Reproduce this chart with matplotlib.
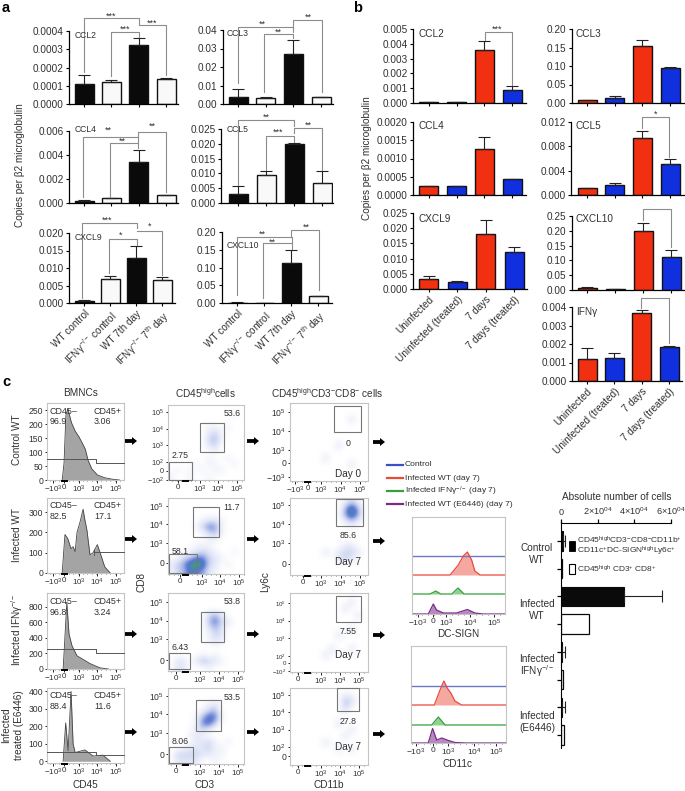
import matplotlib
matplotlib.use("Agg")
import matplotlib.pyplot as plt
from matplotlib.colors import LinearSegmentedColormap
from matplotlib.patches import Rectangle, FancyArrow
from matplotlib.ticker import MultipleLocator
import numpy as np

plt.rcParams['font.family'] = ['Liberation Sans', 'DejaVu Sans']
plt.rcParams['mathtext.fontset'] = 'custom'
plt.rcParams['mathtext.rm'] = 'Liberation Sans'
plt.rcParams['mathtext.it'] = 'Liberation Sans:italic'
plt.rcParams['mathtext.bf'] = 'Liberation Sans:bold'
plt.rcParams['mathtext.default'] = 'regular'

W, H = 685, 791
TXT = '#303030'
KO = "IFNγ$^{-/-}$"

# panel a: bar height, top of error bar
a_ccl2 = [0.00011, 0.00012, 0.000325, 0.000135]
a_ccl2_top = [0.00016, 0.00013, 0.000362, 0.00014]
a_ccl3 = [0.004, 0.0033, 0.027, 0.0036]
a_ccl3_top = [0.0083, 0.004, 0.0347, 0.0036]
a_ccl4 = [0.0002, 0.00038, 0.0034, 0.00068]
a_ccl4_top = [0.00025, 0.00038, 0.0044, 0.00068]
a_ccl5 = [0.0032, 0.0094, 0.0198, 0.0067]
a_ccl5_top = [0.0058, 0.0108, 0.0202, 0.0108]
a_cxcl9 = [0.0006, 0.0069, 0.013, 0.0065]
a_cxcl9_top = [0.001, 0.0076, 0.0163, 0.0073]
a_cxcl10 = [0.001, 0.0, 0.113, 0.021]
a_cxcl10_top = [0.002, 0.0, 0.15, 0.021]
a_labels = ["WT control", KO + " control", "WT 7th day", KO + " 7$^{th}$ day"]

# panel b
b_ccl2 = [0.00005, 0.00007, 0.0036, 0.0009]
b_ccl2_top = [0.00005, 0.00007, 0.0042, 0.00115]
b_ccl3 = [0.008, 0.014, 0.155, 0.094]
b_ccl3_top = [0.008, 0.018, 0.17, 0.098]
b_ccl4 = [0.00024, 0.00025, 0.00127, 0.00044]
b_ccl4_top = [0.00024, 0.00026, 0.0016, 0.00044]
b_ccl5 = [0.0011, 0.0016, 0.0093, 0.0051]
b_ccl5_top = [0.0011, 0.0019, 0.0106, 0.006]
b_cxcl9 = [0.0032, 0.0022, 0.018, 0.0123]
b_cxcl9_top = [0.0043, 0.0026, 0.0227, 0.0137]
b_cxcl10 = [0.007, 0.002, 0.199, 0.112]
b_cxcl10_top = [0.011, 0.003, 0.225, 0.135]
b_ifng = [0.0012, 0.00125, 0.00365, 0.00185]
b_ifng_top = [0.0018, 0.0015, 0.00385, 0.00187]
b_labels = ["Uninfected", "Uninfected (treated)", "7 days", "7 days (treated)"]

# panel c, BMNC histograms (x in display decades, y in counts)
hist1_x = [-0.1, 0.0, 0.1, 0.2, 0.4, 0.6, 0.8, 1.0, 1.15, 1.3, 1.5, 1.8, 2.2, 2.6, 3.0]
hist1_y = [0, 60, 230, 255, 205, 175, 155, 130, 110, 70, 40, 18, 8, 3, 0]
hist2_x = [-0.1, 0.05, 0.2, 0.38, 0.49, 0.6, 0.7, 0.86, 1.03, 1.13, 1.24, 1.4, 1.57, 1.8, 1.95, 2.2, 2.5]
hist2_y = [0, 190, 170, 120, 130, 105, 200, 250, 315, 260, 210, 90, 100, 140, 100, 30, 0]
hist3_x = [-0.05, 0.0, 0.15, 0.27, 0.43, 0.7, 1.13, 1.4, 1.95, 2.4]
hist3_y = [0, 200, 860, 450, 300, 170, 110, 70, 15, 0]
hist4_x = [-0.05, 0.09, 0.22, 0.38, 0.49, 0.6, 1.13, 1.57, 2.1, 2.5]
hist4_y = [0, 220, 60, 400, 100, 50, 65, 30, 35, 0]

# panel c, overlaid histograms (x in decades, y relative heights)
dc_red_x = [3.17, 3.51, 3.72, 3.89, 4.07, 4.2, 4.42]
dc_red_y = [0, 10, 19, 23, 15, 4, 0]
dc_green_x = [2.33, 2.57, 2.78, 3.24, 3.5, 3.75]
dc_green_y = [0, 3, 0, 0, 6, 0]
dc_purple_x = [2.26, 2.47, 2.6, 2.89, 3.44, 3.89, 4.2, 4.56]
dc_purple_y = [0, 10, 4, 1, 1, 4.5, 1, 0]
cd11c_red_x = [2.43, 2.67, 2.83, 2.97, 3.12, 3.29, 3.57]
cd11c_red_y = [0, 15, 24, 17, 12, 4, 0]
cd11c_green_x = [2.32, 2.6, 2.88]
cd11c_green_y = [0, 8, 0]
cd11c_purple_x = [2.18, 2.36, 2.53, 2.74, 3.02, 3.29, 3.78]
cd11c_purple_y = [0, 14.5, 3, 5, 2.5, 0.5, 0]

# panel c, absolute numbers
abs_black = [1000, 34700, 500, 700]
abs_black_top = [2400, 55300, 2000, 2000]
abs_white = [700, 15500, 1000, 1800]

# dot plot density read by eye, 12 x 12 cells, levels 0-9, top row first
d_cd3_r1 = ["000000000000", "000000000010", "000000000000", "000000110100",
            "000000231000", "000000341000", "000000230000", "000000010000",
            "000000100100", "000010110010", "010101011000", "100100100000"]
d_cd3_r2 = ["000000000000", "000000000000", "000000000000", "000001221000",
            "000013651000", "000001341000", "000000110000", "000011100000",
            "000123210010", "013466321000", "235898320100", "134765210000"]
d_cd3_r3 = ["000000000000", "000000000000", "000000000000", "000000352000",
            "000000463200", "000000242000", "000000132000", "000000121000",
            "000000000000", "000001010000", "022024321000", "022000100000"]
d_cd3_r4 = ["000000000000", "000000000000", "000000120000", "000001340000",
            "000014761000", "000016740000", "000023200000", "000121000000",
            "000022310100", "001222311000", "033332211000", "022220010000"]
d_ly6c_r1 = ["000000000000", "000000000000", "000000000200", "000000000000",
             "000000000000", "000000000000", "000000020000", "000000000000",
             "000002000000", "000000000200", "000000000000", "000000000000"]
d_ly6c_r2 = ["000000001310", "000000004840", "000000005950", "000000002420",
             "000000000100", "000000000000", "000000000000", "000000002200",
             "000002023320", "000000023200", "000000000000", "000000000000"]
d_ly6c_r3 = ["000000000000", "000000000200", "000000002000", "000000000020",
             "000000000000", "000000000200", "000000020000", "000000000000",
             "000000200200", "000002000000", "000000000000", "000000000000"]
d_ly6c_r4 = ["000000000000", "000000003200", "000000004200", "000000002000",
             "000000000000", "000000020000", "000000000200", "000000002000",
             "000002000000", "000000020200", "000000000000", "000000000000"]

fig = plt.figure(figsize=(W / 100, H / 100), dpi=100)


def axes_at(left, top, right, bottom):
    return fig.add_axes([left / W, 1 - bottom / H, (right - left) / W, (bottom - top) / H])


def bar_panel(box, first, last, ylim, ytick_text, vals, tops, colors, labels=None):
    left, top, right, bottom = box
    step = (last - first) / 3
    ax = axes_at(left, top, right, bottom)
    x = np.arange(4)
    err = np.array(tops) - np.array(vals)
    ax.bar(x, vals, width=19 / step, color=colors, edgecolor='#111111', linewidth=1.0)
    ax.errorbar(x, vals, yerr=[np.zeros(4), err], fmt='none', ecolor='#222222',
                elinewidth=0.8, capsize=4.5, capthick=0.8)
    ax.set_xlim((left - first) / step, (right - first) / step)
    ax.set_ylim(*ylim)
    ax.set_yticks([float(t) for t in ytick_text])
    ax.set_yticklabels(ytick_text, fontsize=7.2, color=TXT)
    ax.set_xticks(x)
    if labels:
        ax.set_xticklabels(labels, rotation=45, ha='right', rotation_mode='anchor',
                           fontsize=7.2, color=TXT)
    else:
        ax.set_xticklabels([])
    ax.tick_params(length=2.5, width=0.8, pad=1.5)
    for s in ['top', 'right']:
        ax.spines[s].set_visible(False)
    for s in ['left', 'bottom']:
        ax.spines[s].set_linewidth(0.9)
    ax.patch.set_alpha(0)
    return ax


BW = ['#0a0a0a', '#f9f9f9', '#0a0a0a', '#f9f9f9']
RB = ['#f03010', '#1030e0', '#f03010', '#1030e0']

bar_panel((69, 31, 178, 104), 84, 166, (0, 0.0004), ["0.0000", "0.0001", "0.0002", "0.0003", "0.0004"],
          a_ccl2, a_ccl2_top, BW)
bar_panel((223, 30, 333, 104), 238, 321, (0, 0.04), ["0.00", "0.01", "0.02", "0.03", "0.04"],
          a_ccl3, a_ccl3_top, BW)
bar_panel((69, 131, 178, 203), 84, 166, (0, 0.006), ["0.000", "0.002", "0.004", "0.006"],
          a_ccl4, a_ccl4_top, BW)
bar_panel((221, 129, 333, 203), 238, 322, (0, 0.025), ["0.000", "0.005", "0.010", "0.015", "0.020", "0.025"],
          a_ccl5, a_ccl5_top, BW)
bar_panel((69, 233, 175, 303), 84, 162, (0, 0.02), ["0.000", "0.005", "0.010", "0.015", "0.020"],
          a_cxcl9, a_cxcl9_top, BW, a_labels)
bar_panel((222, 232, 332, 303), 237, 318, (0, 0.2), ["0.00", "0.05", "0.10", "0.15", "0.20"],
          a_cxcl10, a_cxcl10_top, BW, a_labels)

bar_panel((413, 29, 526, 103), 429, 512, (0, 0.005), ["0.000", "0.001", "0.002", "0.003", "0.004", "0.005"],
          b_ccl2, b_ccl2_top, RB)
bar_panel((572, 29, 685, 103), 587, 670, (0, 0.2), ["0.00", "0.05", "0.10", "0.15", "0.20"],
          b_ccl3, b_ccl3_top, RB)
bar_panel((413, 122, 526, 195), 429, 512, (0, 0.002), ["0.0000", "0.0005", "0.0010", "0.0015", "0.0020"],
          b_ccl4, b_ccl4_top, RB)
bar_panel((571, 122, 685, 195), 587, 670, (0, 0.012), ["0.000", "0.004", "0.008", "0.012"],
          b_ccl5, b_ccl5_top, RB)
bar_panel((413, 213, 527, 289), 429, 514, (0, 0.025), ["0.000", "0.005", "0.010", "0.015", "0.020", "0.025"],
          b_cxcl9, b_cxcl9_top, RB, b_labels)
bar_panel((572, 216, 685, 290), 587, 671, (0, 0.25), ["0.00", "0.05", "0.10", "0.15", "0.20", "0.25"],
          b_cxcl10, b_cxcl10_top, RB)
bar_panel((572, 307, 682, 381), 587, 669, (0, 0.004), ["0.000", "0.001", "0.002", "0.003", "0.004"],
          b_ifng, b_ifng_top, RB, b_labels)

density_cmap = LinearSegmentedColormap.from_list(
    'flow', ['#ffffff', '#f1f3fb', '#e3e8f8', '#ced6f2', '#b2bfeb', '#8a9ee0',
             '#5f7cd2', '#4a80b8', '#48a070', '#80b040'])


def flow_frame(ax, xlim, ylim, xt, xl, yt, yl, ysize=6.2):
    ax.set_xlim(*xlim)
    ax.set_ylim(*ylim)
    ax.set_xticks(xt)
    ax.set_xticklabels(xl, fontsize=5.8, color=TXT)
    ax.set_yticks(yt)
    ax.set_yticklabels(yl, fontsize=ysize, color=TXT)
    ax.tick_params(length=1.8, width=0.6, pad=1)
    ax.xaxis.set_minor_locator(MultipleLocator(0.25))
    ax.tick_params(which='minor', length=0.9, width=0.4)
    for s in ax.spines.values():
        s.set_color('#c4c4c4')
        s.set_linewidth(0.8)


E = ["$10^{2}$", "$10^{3}$", "$10^{4}$", "$10^{5}$"]
XH = [-0.6, 0, 0.8, 1.8, 2.8]
XHL = ["−10$^{3}$", "0", E[1], E[2], E[3]]
hist_boxes = [(47, 403, 124, 480), (47, 498, 124, 573), (47, 593, 124, 669), (47, 688, 124, 763)]
hist_ylim = [(0, 275), (0, 370), (0, 980), (-10, 420)]
hist_yt = [[0, 50, 100, 150, 200, 250], [0, 100, 200, 300], [0, 200, 400, 600, 800], [0, 100, 200, 300, 400]]
hist_data = [(hist1_x, hist1_y), (hist2_x, hist2_y), (hist3_x, hist3_y), (hist4_x, hist4_y)]
for box, yl, yt, (hx, hy) in zip(hist_boxes, hist_ylim, hist_yt, hist_data):
    ax = axes_at(*box)
    ax.fill_between(hx, hy, 0, color='#a4a4a4', linewidth=0)
    ax.plot(hx, hy, color='#444444', lw=0.6)
    flow_frame(ax, (-0.92, 3.24), yl, XH, XHL, yt, [str(v) for v in yt])

cd3_boxes = [(168, 405, 244, 480), (168, 498, 244, 574), (168, 593, 244, 671), (168, 688, 244, 764)]
cd3_xlim = [(1.27, 5.38), (1.2, 5.27), (1.32, 5.32), (1.32, 5.32)]
cd3_ylim = [(0.93, 5.42), (1.30, 5.43), (1.27, 5.49), (1.32, 5.43)]
cd3_x0 = [1.81, 1.85, 1.74, 1.74]
cd3_yt = [[0.93, 1.47, 2, 3, 4, 5], [1.9, 3, 4, 5], [1.86, 3, 4, 5], [1.86, 3, 4, 5]]
cd3_yl = [["−10$^{2}$", "0"] + E, ["0"] + E[1:], ["0"] + E[1:], ["0"] + E[1:]]
cd3_den = [d_cd3_r1, d_cd3_r2, d_cd3_r3, d_cd3_r4]

ly_boxes = [(290, 403, 368, 481), (290, 498, 368, 575), (290, 593, 368, 672), (290, 688, 368, 765)]
ly_xlim = [(1.41, 5.41), (1.41, 5.41), (1.37, 5.47), (1.37, 5.47)]
ly_ylim = [(1.37, 5.47), (1.32, 5.37), (1.1, 5.55), (0.95, 5.4)]
ly_xt = [[1.67, 2.33, 3, 4, 5], [2.08, 3, 4, 5], [1.79, 3, 4, 5], [1.79, 3, 4, 5]]
ly_xl = [["−10$^{3}$", "0"] + E[1:], ["0"] + E[1:], ["0"] + E[1:], ["0"] + E[1:]]
ly_yt = [[1.58, 2.32, 3, 4, 5], [1.9, 3, 4, 5], [1.16, 1.61, 2, 3, 4, 5], [1.47, 2, 3, 4, 5]]
ly_yl = [["−10$^{3}$", "0"] + E[1:], ["0"] + E[1:], ["−10$^{2}$", "0"] + E, ["0"] + E]
ly_den = [d_ly6c_r1, d_ly6c_r2, d_ly6c_r3, d_ly6c_r4]
ly_ysize = [6.2, 6.2, 4.4, 6.2]
cd3_ysize = [5.2, 6.2, 6.2, 6.2]


def density(ax, rows, xlim, ylim):
    grid = np.array([[int(c) for c in r] for r in rows])
    ax.imshow(grid, cmap=density_cmap, vmin=0, vmax=9, aspect='auto',
              interpolation='bicubic', extent=[xlim[0], xlim[1], ylim[0], ylim[1]])


for i in range(4):
    ax = axes_at(*cd3_boxes[i])
    density(ax, cd3_den[i], cd3_xlim[i], cd3_ylim[i])
    flow_frame(ax, cd3_xlim[i], cd3_ylim[i], [cd3_x0[i], 3, 4, 5], ["0"] + E[1:], cd3_yt[i], cd3_yl[i],
               cd3_ysize[i])
    ax = axes_at(*ly_boxes[i])
    density(ax, ly_den[i], ly_xlim[i], ly_ylim[i])
    flow_frame(ax, ly_xlim[i], ly_ylim[i], ly_xt[i], ly_xl[i], ly_yt[i], ly_yl[i], ly_ysize[i])

BLUE, RED, GREEN, PURPLE = '#3a50c8', '#e84a3c', '#35a040', '#7a2a88'


def overlay_hist(box, xlim, xt, base, red, green, purple, xlabel_ticks):
    ax = axes_at(*box)
    ax.set_ylim(0, box[3] - box[1])
    ax.plot(xlim, [base[0], base[0]], color='#6a78c8', lw=1.0)
    for (hx, hy), b, c, fc in [(red, base[1], RED, '#f4a8a0'), (green, base[2], GREEN, '#90d090'),
                               (purple, 0, PURPLE, '#b888c0')]:
        hx2 = [xlim[0]] + list(hx) + [xlim[1]]
        hy2 = np.array([0] + list(hy) + [0]) + b
        ax.fill_between(hx2, hy2, b, color=fc, linewidth=0)
        ax.plot(hx2, hy2, color=c, lw=0.9)
    flow_frame(ax, xlim, (0, box[3] - box[1]), xt, xlabel_ticks, [], [])
    ax.tick_params(axis='x', labelsize=6)


overlay_hist((412, 517, 505, 614), (1.58, 5.46), [1.83, 2.46, 3, 4, 5], (58, 39, 20),
             (dc_red_x, dc_red_y), (dc_green_x, dc_green_y), (dc_purple_x, dc_purple_y),
             ["−10$^{3}$", "0"] + E[1:])
overlay_hist((411, 646, 506, 743), (1.46, 5.42), [1.67, 2.37, 3, 4.08, 5], (57, 38, 18),
             (cd11c_red_x, cd11c_red_y), (cd11c_green_x, cd11c_green_y), (cd11c_purple_x, cd11c_purple_y),
             ["−10$^{3}$", "0"] + E[1:])

# absolute numbers
ax = axes_at(561, 523, 685, 748)
pos_black = np.array([0, 2, 4, 6])
pos_white = pos_black + 1
ax.barh(pos_black, abs_black, height=0.7, color='#0a0a0a', edgecolor='#0a0a0a', linewidth=0.8)
ax.barh(pos_white, abs_white, height=0.7, color='white', edgecolor='#0a0a0a', linewidth=0.9)
ax.errorbar(abs_black, pos_black, xerr=[np.zeros(4), np.array(abs_black_top) - np.array(abs_black)],
            fmt='none', ecolor='#222222', elinewidth=0.8, capsize=4, capthick=0.8)
ax.set_xlim(0, 124 / 36.5 * 20000)
ax.set_ylim(7.47, -0.65)
ax.xaxis.tick_top()
ax.set_xticks([0, 20000, 40000, 60000])
ax.set_xticklabels(["0", "2×10$^{04}$", "4×10$^{04}$", "6×10$^{04}$"], fontsize=6.6, color=TXT)
ax.set_yticks(range(8))
ax.set_yticklabels([])
ax.tick_params(length=3, width=0.9, pad=1.5)
ax.spines['right'].set_visible(False)
ax.spines['bottom'].set_visible(False)
ax.spines['top'].set_bounds(0, 60000)
ax.patch.set_alpha(0)

# everything placed by eye goes on a pixel overlay
ov = fig.add_axes([0, 0, 1, 1], zorder=10)
ov.set_xlim(0, W)
ov.set_ylim(H, 0)
ov.axis('off')


def T(x, y, s, size=7.2, ha='left', rot=0, weight='normal', color=TXT):
    ov.text(x, y, s, fontsize=size, ha=ha, va='center', rotation=rot, fontweight=weight, color=color)


def bracket(x1, y1, ytop, x2, y2):
    ov.plot([x1, x1, x2, x2], [y1, ytop, ytop, y2], color='#8c8c8c', lw=0.8)


a_brackets = [(84, 72, 18, 139, 24), (111, 76, 32, 139, 37), (139, 25, 25, 166, 75),
              (238, 83, 27, 293, 32), (264, 92, 34, 293, 38), (293, 26, 20, 322, 92),
              (83, 197, 137, 138, 142), (110, 197, 143, 138, 148), (138, 137, 132, 166, 192),
              (238, 185, 120, 294, 126), (266, 170, 136, 294, 142), (294, 133, 128, 322, 170),
              (82, 298, 223, 137, 228), (109, 273, 239, 137, 245), (137, 231, 231, 162, 275),
              (237, 295, 237, 292, 242), (263, 298, 243, 292, 249), (291, 237, 230, 319, 290),
              (485, 40, 32, 512, 85), (642, 128, 117, 669, 157), (643, 220, 209, 671, 247),
              (641, 308, 298, 669, 343)]
for b in a_brackets:
    bracket(*b)

stars = [(111, 15, '***'), (125, 28, '***'), (152, 22, '***'), (262, 23, '**'), (278, 31, '**'), (308, 16, '**'),
         (108, 129, '**'), (122, 140, '**'), (152, 125, '**'), (266, 116, '**'), (278, 131, '***'), (308, 124, '**'),
         (107, 219, '***'), (121, 234, '*'), (150, 225, '*'), (262, 233, '**'), (272, 241, '**'), (306, 226, '**'),
         (497, 28, '***'), (656, 113, '*')]
for x, y, s in stars:
    ov.text(x, y + 1, s, fontsize=6.5, ha='center', va='center', color=TXT)

for x, y, s in [(75, 35, 'CCL2'), (227, 34, 'CCL3'), (75, 130, 'CCL4'), (227, 129, 'CCL5'),
                (75, 237, 'CXCL9'), (227, 245, 'CXCL10')]:
    T(x, y, s, 6.2)
for x, y, s in [(419, 34, 'CCL2'), (576, 34, 'CCL3'), (419, 126, 'CCL4'), (576, 126, 'CCL5'),
                (419, 219, 'CXCL9'), (576, 219, 'CXCL10'), (576, 312, 'IFNγ')]:
    T(x, y, s)

T(20, 165, 'Copies per β2 microglobulin', ha='center', rot=90)
T(367, 158, 'Copies per β2 microglobulin', ha='center', rot=90)
T(2, 8, 'a', 10.5, weight='bold', color='black')
T(353, 8, 'b', 10.5, weight='bold', color='black')
T(2, 382, 'c', 10.5, weight='bold', color='black')

T(81, 393, 'BMNCs', ha='center')
T(205, 393, 'CD45$^{high}$cells', ha='center')
T(327, 393, 'CD45$^{high}$CD3$^{-}$CD8$^{-}$ cells', ha='center')
T(85, 785, 'CD45', ha='center')
T(205, 785, 'CD3', ha='center')
T(329, 785, 'CD11b', ha='center')
T(458, 634, 'DC-SIGN', ha='center')
T(458, 764, 'CD11c', ha='center')
T(142, 582, 'CD8', ha='center', rot=90)
T(265, 582, 'Ly6c', ha='center', rot=90)
T(17, 440, 'Control WT', ha='center', rot=90)
T(17, 535, 'Infected WT', ha='center', rot=90)
T(17, 630, 'Infected ' + KO, ha='center', rot=90)
T(6, 725, 'Infected', ha='center', rot=90)
T(19, 725, 'treated (E6446)', ha='center', rot=90)

for y1, n1, p1 in [(411, '96.9', '3.06'), (506, '82.5', '17.1'), (602, '96.8', '3.24'), (696, '88.4', '11.6')]:
    T(50, y1, 'CD45–', 6.4)
    T(50, y1 + 10.5, n1, 6.4)
    T(94, y1, 'CD45+', 6.4)
    T(94, y1 + 10.5, p1, 6.4)

# histogram gates
for y1, y2, x_end in [(459, 463, 124), (552, 552, 124), (649, 653, 124), (752, 755, 124)]:
    if y1 != y2:
        ov.plot([47, 96, 96, x_end], [y1, y1, y2, y2], color='#555555', lw=0.7)
    else:
        ov.plot([94, x_end], [y2, y2], color='#555555', lw=0.7)
        ov.plot([94, 94], [y2 - 3, y2 + 3], color='#555555', lw=0.7)

gates = [(200, 423, 224, 452), (169, 462, 192, 480), (193, 507, 219, 537), (169, 554, 197, 573),
         (201, 612, 224, 642), (169, 653, 190, 669), (196, 700, 221, 731), (169, 747, 193, 763),
         (334, 406, 361, 432), (336, 499, 363, 526), (336, 596, 361, 622), (337, 688, 359, 711)]
for x1, y1, x2, y2 in gates:
    ov.add_patch(Rectangle((x1, y1), x2 - x1, y2 - y1, fill=False, edgecolor='#777777', lw=0.8))

flow_text = [(232, 413, '53.6'), (180, 455, '2.75'), (232, 507, '11.7'), (180, 551, '58.1'),
             (232, 601, '53.8'), (180, 647, '6.43'), (232, 697, '53.5'), (180, 741, '8.06'),
             (348, 443, '0'), (348, 474, 'Day 0'), (348, 535, '85.6'), (348, 562, 'Day 7'),
             (348, 631, '7.55'), (348, 655, 'Day 7'), (348, 721, '27.8'), (348, 747, 'Day 7')]
for x, y, s in flow_text:
    T(x, y, s, 7.2 if s.startswith('Day') else 6.3, ha='center')

for x0, ys in [(125, [441, 539, 634, 732]), (247, [441, 539, 634, 732]), (373, [442, 541, 635, 734])]:
    for y in ys:
        ov.add_patch(FancyArrow(x0, y, 12, 0, width=3.8, head_width=8, head_length=5,
                                length_includes_head=True, color='black', lw=0))

# black rug next to zero on the flow axes
for box in hist_boxes + cd3_boxes + ly_boxes:
    ov.plot([box[0] + 15, box[0] + 20], [box[3] + 0.5, box[3] + 0.5], color='black', lw=1.4)

# legend of the overlaid histograms
for y, c, s in [(465, BLUE, 'Control'), (478, RED, 'Infected WT (day 7)'),
                (491, GREEN, 'Infected ' + KO + ' (day 7)'), (504, PURPLE, 'Infected WT (E6446) (day 7)')]:
    ov.plot([387, 403], [y, y], color=c, lw=1.6)
    T(405, y, s, 6.1)

# bar chart annotation
T(617, 497, 'Absolute number of cells', ha='center')
for y1, y2, s in [(548, 560, 'Control\nWT'), (604, 616, 'Infected\nWT'),
                  (659, 671, 'Infected\n' + KO), (716, 728, 'Infected\n(E6446)')]:
    l1, l2 = s.split('\n')
    T(537, y1, l1, ha='center')
    T(537, y2, l2, ha='center')
ov.add_patch(Rectangle((569, 541), 6, 10, facecolor='black', edgecolor='black', lw=0.6))
ov.add_patch(Rectangle((569, 564), 6, 10, facecolor='white', edgecolor='black', lw=0.8))
T(577, 540, 'CD45$^{high}$CD3$^{-}$CD8$^{-}$CD11b$^{+}$', 6)
T(577, 551, 'CD11c$^{+}$DC-SIGN$^{high}$Ly6c$^{+}$', 6)
T(577, 569, 'CD45$^{high}$ CD3$^{+}$ CD8$^{+}$', 6)

fig.savefig('out.png', dpi=100)
